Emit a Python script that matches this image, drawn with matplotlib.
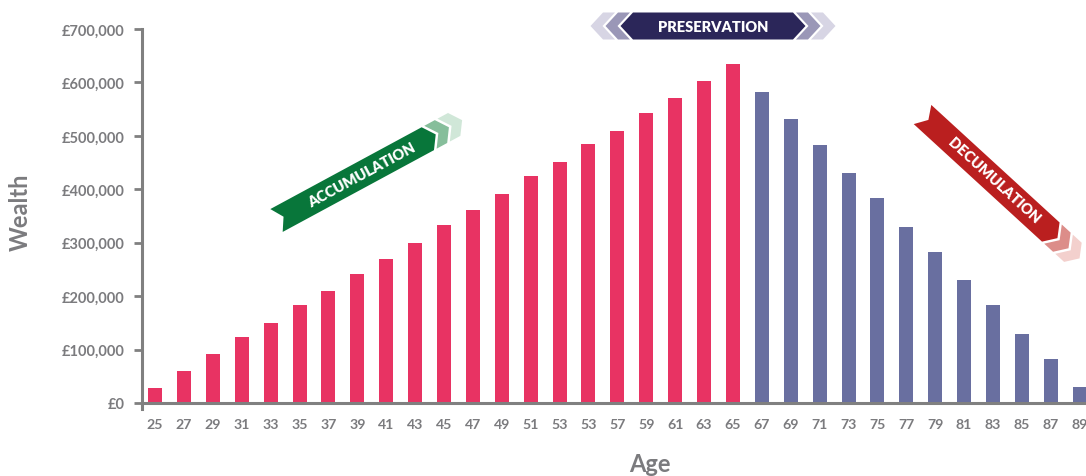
import numpy as np
import matplotlib
matplotlib.use("Agg")
import matplotlib.pyplot as plt
from matplotlib.patches import Polygon
from matplotlib.ticker import FuncFormatter

# tick labels as printed on the chart (note the repeated 53)
ages = ["25", "27", "29", "31", "33", "35", "37", "39", "41", "43", "45",
        "47", "49", "51", "53", "53", "57", "59", "61", "63", "65",
        "67", "69", "71", "73", "75", "77", "79", "81", "83", "85", "87", "89"]
wealth = [28000, 60000, 92000, 124000, 150000, 184000, 210000, 242000, 270000,
          300000, 334000, 362000, 392000, 424000, 452000, 484000, 510000,
          542000, 570000, 602000, 634000,
          583000, 531000, 482000, 430000, 383000, 330000, 283000, 231000,
          184000, 129000, 83000, 30000]
retire_label = "65"

pink = "#E83363"
purple = "#696FA0"
grey = "#7b7b7e"

plt.rcParams['font.family'] = ['Lato', 'DejaVu Sans']
plt.rcParams['font.weight'] = 'bold'

fig = plt.figure(figsize=(10.86, 4.77), dpi=100)
ax = fig.add_axes([0.1308, 0.1396, 0.8767, 0.7975])

split = ages.index(retire_label)
x = np.arange(len(ages))
colors = [pink if i <= split else purple for i in x]
ax.bar(x, wealth, width=0.485, color=colors, zorder=2)

ax.set_xlim(-0.45, 32.5)
ax.set_ylim(-12000, 700000)
ax.set_xticks(x)
ax.set_xticklabels(ages)
ax.set_yticks(np.arange(0, 700001, 100000))
ax.yaxis.set_major_formatter(FuncFormatter(lambda v, p: "£{:,.0f}".format(v)))

for s in ["top", "right"]:
    ax.spines[s].set_visible(False)
ax.spines["bottom"].set_position(("data", 0))
for s in ["left", "bottom"]:
    ax.spines[s].set_color("#808080")
    ax.spines[s].set_linewidth(2.2)
    ax.spines[s].set_zorder(3)
ax.tick_params(axis="x", length=0, pad=10.5, labelsize=10.2, labelcolor=grey)
ax.tick_params(axis="y", length=5.5, width=2, color="#808080", pad=7,
               labelsize=10.5, labelcolor=grey)
for lab in ax.get_xticklabels() + ax.get_yticklabels():
    lab.set_fontweight("bold")

fig.text(20 / 1086, 1 - 212 / 477, "Wealth", rotation=90, ha="center", va="center",
         fontsize=17, fontweight="bold", color=grey)
fig.text(650 / 1086, 1 - 465 / 477, "Age", ha="center", va="center",
         fontsize=17, fontweight="bold", color=grey)

# overlay in pixel coordinates for the phase banners
ov = fig.add_axes([0, 0, 1, 1], zorder=5)
ov.set_xlim(0, 1086)
ov.set_ylim(477, 0)
ov.axis("off")


def to_px(pts, sx, sy, ang):
    a = np.radians(ang)
    out = []
    for u, v in pts:
        out.append((sx + u * np.cos(a) - v * np.sin(a),
                    sy + u * np.sin(a) + v * np.cos(a)))
    return out


def ribbon(sx, sy, ang, length, w, cols, label, text_u):
    h = w / 2
    t = 9
    body = [(0, -h), (length, -h), (length + t, 0), (length, h), (0, h), (8, 0)]
    ov.add_patch(Polygon(to_px(body, sx, sy, ang), closed=True, color=cols[0], lw=0))
    b = length + 3
    for c in cols[1:]:
        chev = [(b, -h), (b + 12, -h), (b + 12 + t, 0), (b + 12, h), (b, h), (b + t, 0)]
        ov.add_patch(Polygon(to_px(chev, sx, sy, ang), closed=True, color=c, lw=0))
        b += 15
    tx, ty = to_px([(text_u, 0)], sx, sy, ang)[0]
    ov.text(tx, ty, label, rotation=-ang, rotation_mode="anchor", ha="center",
            va="center", color="white", fontsize=10.5, fontweight="heavy")


ribbon(276.5, 221.5, -28.4, 172, 26, ["#08763A", "#86BE9B", "#D0E7D8"],
       "ACCUMULATION", 97)
ribbon(922.5, 115.5, 42.5, 174, 26, ["#BA1F1F", "#DC8D89", "#F3D0CD"],
       "DECUMULATION", 97)

# preservation banner (horizontal, pointing both ways)
cx, cy, half, h, t = 713, 27, 80, 13.5, 12.5
hexa = [(cx - half, cy - h), (cx + half, cy - h), (cx + half + t, cy),
        (cx + half, cy + h), (cx - half, cy + h), (cx - half - t, cy)]
ov.add_patch(Polygon(hexa, closed=True, color="#2B2659", lw=0))
for k, c in enumerate(["#9A97B7", "#D7D5E4"]):
    for sgn in (-1, 1):
        b = half + 3 + 15 * k
        chev = [(b, -h), (b + 12, -h), (b + 12 + t, 0), (b + 12, h), (b, h), (b + t, 0)]
        pts = [(cx + sgn * u, cy + v) for u, v in chev]
        ov.add_patch(Polygon(pts, closed=True, color=c, lw=0))
ov.text(cx, cy + 0.5, "PRESERVATION", ha="center", va="center", color="white",
        fontsize=10.5, fontweight="heavy")

fig.savefig("out.png", dpi=100)
